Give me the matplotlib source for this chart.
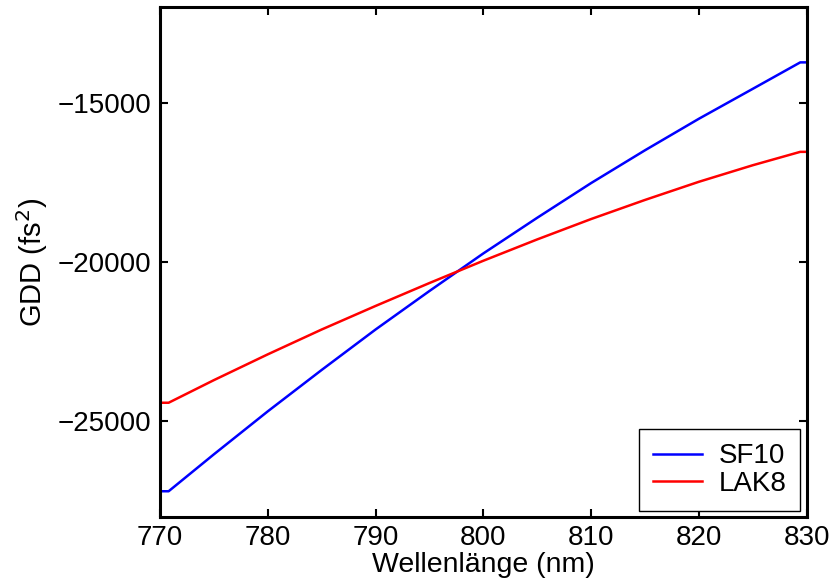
import matplotlib
matplotlib.use("Agg")
import matplotlib.pyplot as plt

# Werte (Wellenlänge in nm, GDD in fs^2)
wavelength = [770.0, 770.8, 775, 780, 785, 790, 795, 800, 805, 810, 815, 820, 825, 829.4, 830.0]
gdd_sf10 = [-27200, -27200, -26040, -24690, -23390, -22120, -20910, -19730, -18610, -17520,
            -16490, -15500, -14560, -13730, -13730]
gdd_lak8 = [-24420, -24420, -23710, -22900, -22120, -21380, -20660, -19960, -19290, -18650,
            -18050, -17480, -16960, -16540, -16540]
yticks = [-25000, -20000, -15000]
xticks = [770, 780, 790, 800, 810, 820, 830]

plt.rcParams['font.family'] = ['Liberation Sans', 'DejaVu Sans']

fig = plt.figure(figsize=(8.32, 5.84), dpi=100)
ax = fig.add_axes([0.1923, 0.1152, 0.9696 - 0.1923, 0.9875 - 0.1152])

ax.plot(wavelength, gdd_sf10, color='#0000ff', lw=1.8, label='SF10')
ax.plot(wavelength, gdd_lak8, color='#ff0000', lw=1.8, label='LAK8')

ax.set_xlim(770, 830)
ax.set_ylim(-28000, -12000)
ax.set_xticks(xticks)
ax.set_yticks(yticks)
ax.tick_params(direction='in', length=6, width=1.5, top=True, right=True, labelsize=20, pad=6)
for s in ax.spines.values():
    s.set_linewidth(2.2)

ax.set_xlabel('Wellenlänge (nm)', fontsize=20.5, labelpad=1)
ax.set_ylabel('GDD (fs$^2$)', fontsize=21, labelpad=6)

leg = ax.legend(loc='lower right', fancybox=False, framealpha=1, edgecolor='black', fontsize=20,
                handlelength=1.75, handletextpad=0.6, borderpad=0.5, labelspacing=0.05,
                borderaxespad=0, bbox_to_anchor=(0.99, 0.012))
leg.get_frame().set_linewidth(1.0)

fig.savefig('out.png', dpi=100)
